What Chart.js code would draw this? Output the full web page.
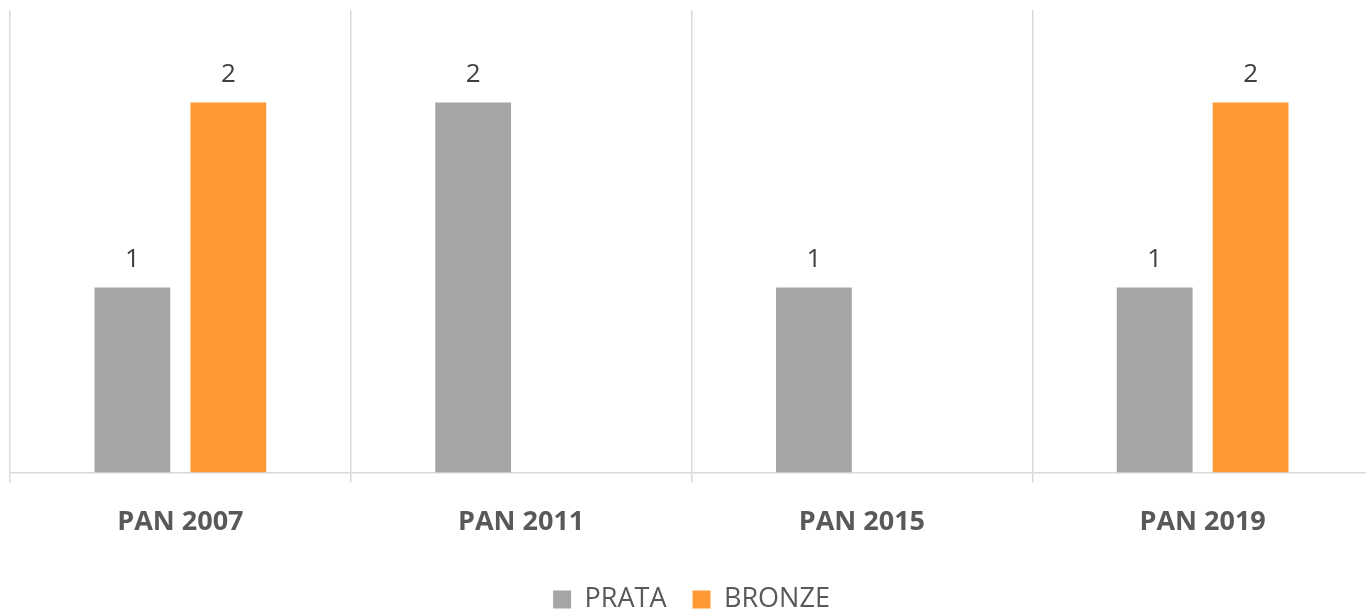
<!DOCTYPE html>
<html>
<head>
<meta charset="utf-8">
<script src="https://cdn.jsdelivr.net/npm/chart.js@4.4.1/dist/chart.umd.min.js"></script>
<style>
  html, body { margin: 0; padding: 0; background: #fff; overflow: hidden; }
  #wrap { width: 1376px; height: 609px; }
</style>
</head>
<body>
<div id="wrap"><canvas id="grafico"></canvas></div>
<script>
const categorias = ['PAN 2007', 'PAN 2011', 'PAN 2015', 'PAN 2019'];
const prata = [1, 2, 1, 1];
const bronze = [2, null, null, 2];

// etiquetas de valor encima de cada barra
const etiquetas = {
  id: 'etiquetas',
  afterDatasetsDraw(chart) {
    const c = chart.ctx;
    c.save();
    c.font = '26px "Open Sans"';
    c.fillStyle = '#404040';
    c.textAlign = 'center';
    c.textBaseline = 'alphabetic';
    chart.data.datasets.forEach((ds, i) => {
      chart.getDatasetMeta(i).data.forEach((bar, j) => {
        const v = ds.data[j];
        if (v === null || v === undefined) return;
        c.fillText(String(v), bar.x, bar.y - 21);
      });
    });
    c.restore();
  }
};

const ctx = document.getElementById('grafico').getContext('2d');
const myChart = new Chart(ctx, {
  type: 'bar',
  data: {
    labels: categorias,
    datasets: [{
      label: 'PRATA',
      data: prata,
      backgroundColor: '#a5a5a5'
    }, {
      label: 'BRONZE',
      data: bronze,
      backgroundColor: '#ff9933'
    }]
  },
  options: {
    responsive: true,
    maintainAspectRatio: false,
    animation: false,
    categoryPercentage: 0.563,
    barPercentage: 0.79,
    layout: { padding: { top: 10, left: 10, right: 3, bottom: -14 } },
    plugins: {
      tooltip: { enabled: false },
      legend: {
        position: 'bottom',
        labels: {
          boxWidth: 18,
          boxHeight: 18,
          padding: 26,
          color: '#595959',
          font: { family: 'Open Sans', size: 27 }
        }
      }
    },
    scales: {
      x: {
        grid: {
          color: '#d9d9d9',
          lineWidth: 1.5,
          tickLength: 10,
          offset: true
        },
        border: { color: '#d9d9d9', width: 1.5 },
        ticks: {
          color: '#595959',
          padding: 24,
          font: { family: 'Open Sans', size: 27, weight: 'bold' }
        },
        afterFit(s) { s.height -= 3; }
      },
      y: {
        display: false,
        min: 0,
        max: 2.5
      }
    }
  },
  plugins: [etiquetas]
});
</script>
</body>
</html>
